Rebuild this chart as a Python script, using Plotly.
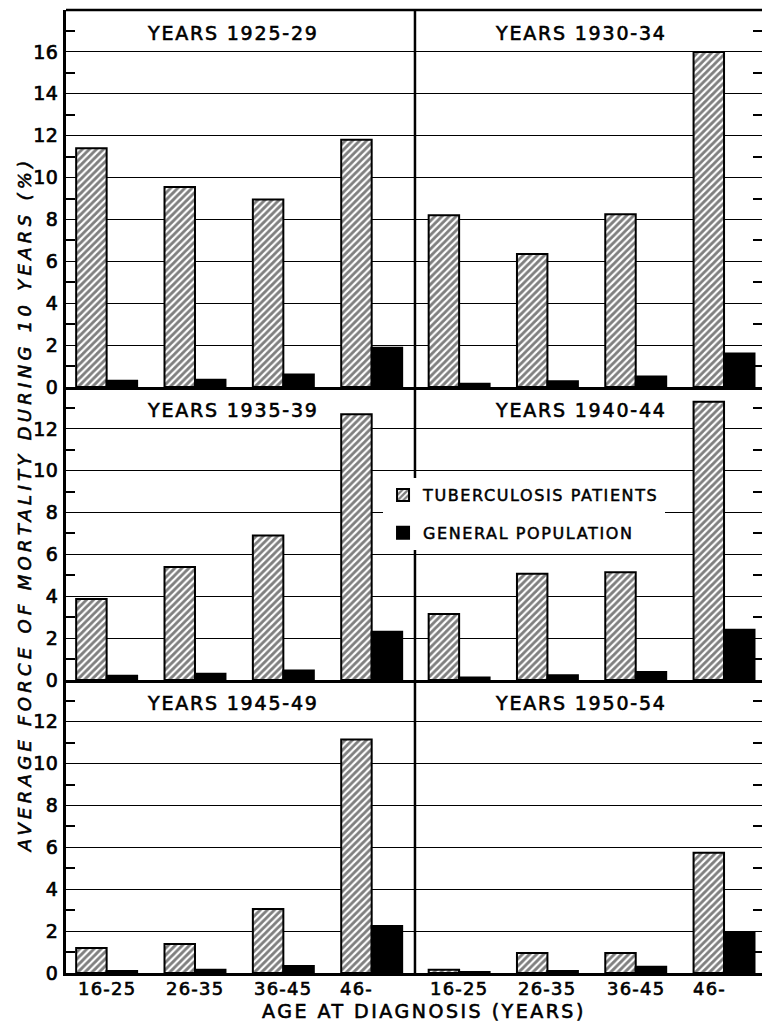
import plotly.graph_objects as go

# Age groups at diagnosis
age_groups = ["16-25", "26-35", "36-45", "46-"]

# Diagnosis periods, one panel each (row-major order)
periods = ["1925-29", "1930-34", "1935-39", "1940-44", "1945-49", "1950-54"]

# Average force of mortality during 10 years (%), tuberculosis patients
tb_1925_29 = [11.4, 9.55, 8.95, 11.8]
tb_1930_34 = [8.2, 6.35, 8.25, 16.0]
tb_1935_39 = [3.87, 5.4, 6.9, 12.7]
tb_1940_44 = [3.15, 5.07, 5.15, 13.3]
tb_1945_49 = [1.2, 1.38, 3.06, 11.15]
tb_1950_54 = [0.15, 0.95, 0.95, 5.74]

# Same measure for the general population
gp_1925_29 = [0.3, 0.35, 0.6, 1.87]
gp_1930_34 = [0.15, 0.28, 0.5, 1.6]
gp_1935_39 = [0.2, 0.3, 0.45, 2.3]
gp_1940_44 = [0.12, 0.22, 0.38, 2.4]
gp_1945_49 = [0.1, 0.15, 0.33, 2.25]
gp_1950_54 = [0.05, 0.1, 0.3, 1.95]

tb_series = [tb_1925_29, tb_1930_34, tb_1935_39, tb_1940_44, tb_1945_49, tb_1950_54]
gp_series = [gp_1925_29, gp_1930_34, gp_1935_39, gp_1940_44, gp_1945_49, gp_1950_54]

# y-axis extents and labelled ticks per panel row
row_ymax = [18, 14, 14]
row_ticks = [[0, 2, 4, 6, 8, 10, 12, 14, 16], [0, 2, 4, 6, 8, 10, 12], [0, 2, 4, 6, 8, 10, 12]]

FONT = "DejaVu Sans"
INK = "black"


def lettering(text, spacing, stroke=0.6):
    """Spaced, slightly heavier lettering."""
    return (f'<span style="letter-spacing:{spacing}px;stroke:#000;'
            f'stroke-width:{stroke}px">{text}</span>')


fig = go.Figure()

# panel geometry (paper fractions)
x_domains = [[0.0, 0.5014], [0.5014, 1.0]]
y_domains = [[0.6085, 1.0], [0.3043, 0.6085], [0.0, 0.3043]]
x_ranges = [[-0.46, 3.49], [-0.5, 3.43]]

layout = {}
annotations = []

for i, period in enumerate(periods):
    row, col = divmod(i, 2)
    n = i + 1
    xa = "x" if n == 1 else f"x{n}"
    ya = "y" if n == 1 else f"y{n}"

    fig.add_trace(go.Bar(
        x=list(range(len(age_groups))), y=tb_series[i], xaxis=xa, yaxis=ya,
        name=lettering("TUBERCULOSIS PATIENTS", 1.6, 0.5), legendgroup="tb",
        showlegend=(i == 0),
        marker=dict(color="white",
                    pattern=dict(shape="/", fgcolor=INK, bgcolor="white", size=5, solidity=0.58),
                    line=dict(color=INK, width=2)),
        hoverinfo="y",
    ))
    fig.add_trace(go.Bar(
        x=list(range(len(age_groups))), y=gp_series[i], xaxis=xa, yaxis=ya,
        name=lettering("GENERAL POPULATION", 1.6, 0.5), legendgroup="gp",
        showlegend=(i == 0),
        marker=dict(color=INK, line=dict(color=INK, width=2)),
        hoverinfo="y",
    ))

    layout[f"xaxis{'' if n == 1 else n}"] = dict(
        domain=x_domains[col], range=x_ranges[col], anchor=ya,
        showgrid=False, zeroline=False, showticklabels=False, ticks="",
        showline=True, linecolor=INK, linewidth=3,
    )
    ymax = row_ymax[row]
    yax = dict(
        domain=y_domains[row], range=[0, ymax], anchor=xa,
        tickvals=row_ticks[row],
        ticktext=[lettering(str(v), 0.5, 0.7) for v in row_ticks[row]],
        showgrid=True, gridcolor=INK, gridwidth=1.3,
        zeroline=False, ticks="",
        minor=dict(tickvals=list(range(1, ymax, 2)), ticks="inside", ticklen=9,
                   tickwidth=1.5, tickcolor=INK, showgrid=False),
        tickfont=dict(family=FONT, size=19, color=INK),
        ticklabelstandoff=1,
    )
    if col == 0:
        yax.update(showline=True, linecolor=INK, linewidth=2.5, showticklabels=True)
    else:
        yax.update(side="right", showline=False, showticklabels=False)
    layout[f"yaxis{'' if n == 1 else n}"] = yax

    # panel heading
    annotations.append(dict(
        text=lettering(f"YEARS {period}", 1.8), xref=f"{xa} domain", yref=f"{ya} domain",
        x=0.5, y=1, xshift=-7, yshift=-23, xanchor="center", yanchor="middle",
        showarrow=False, font=dict(family=FONT, size=19, color=INK),
    ))

    # age-group labels under the bottom panels
    if row == 2:
        for k, label in enumerate(age_groups):
            annotations.append(dict(
                text=lettering(label, 1.2), xref=xa, yref="paper", x=k, y=0,
                xshift=-15 if k == len(age_groups) - 1 else 0, yshift=-15,
                xanchor="center", yanchor="middle", showarrow=False,
                font=dict(family=FONT, size=18, color=INK),
            ))

# axis titles
annotations.append(dict(
    text=lettering("AVERAGE FORCE OF MORTALITY DURING 10 YEARS (%)", 4.3),
    xref="paper", yref="paper", x=-0.06, y=0.487, textangle=-90,
    xanchor="center", yanchor="middle", showarrow=False,
    font=dict(family=FONT, size=18, color=INK, style="italic"),
))
annotations.append(dict(
    text=lettering("AGE AT DIAGNOSIS (YEARS)", 2.5),
    xref="paper", yref="paper", x=0.514, y=-0.039,
    xanchor="center", yanchor="middle", showarrow=False,
    font=dict(family=FONT, size=19, color=INK),
))

# outer frame: top edge and the divider between the two columns
shapes = [
    dict(type="line", xref="paper", yref="paper", x0=0, x1=1, y0=1, y1=1,
         line=dict(color=INK, width=2.5)),
    dict(type="line", xref="paper", yref="paper", x0=0.5014, x1=0.5014, y0=0, y1=1,
         line=dict(color=INK, width=2.5)),
]

fig.update_layout(
    **layout,
    width=762, height=1022,
    margin=dict(l=66, r=0, t=10, b=49),
    paper_bgcolor="white", plot_bgcolor="white",
    barmode="group", bargap=0.31, bargroupgap=0,
    annotations=annotations, shapes=shapes,
    showlegend=True,
    legend=dict(x=0.4555, y=0.514, xanchor="left", yanchor="top",
                bgcolor="white", borderwidth=0, itemwidth=30, tracegroupgap=14,
                font=dict(family=FONT, size=16, color=INK)),
    font=dict(family=FONT, color=INK),
)

fig.write_html("out.html")
